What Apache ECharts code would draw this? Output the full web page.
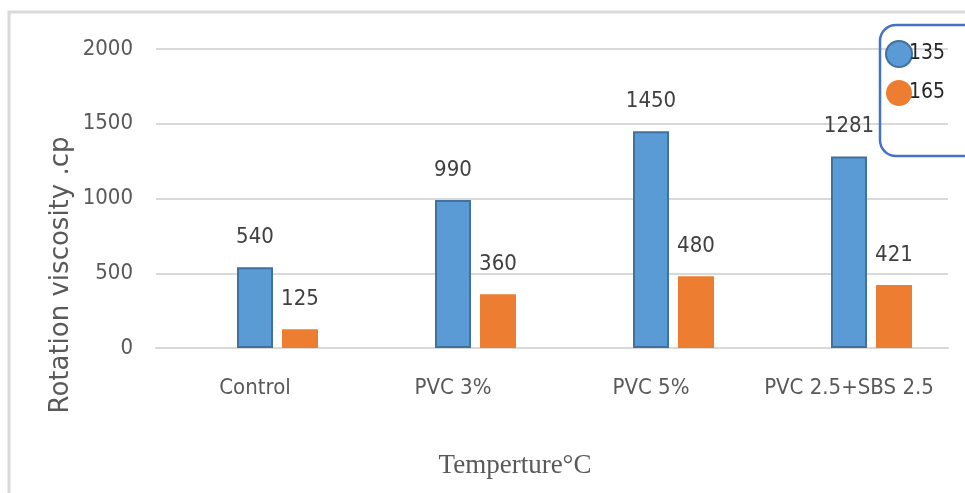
<!DOCTYPE html>
<html>
<head>
<meta charset="utf-8">
<script src="https://cdn.jsdelivr.net/npm/echarts@6/dist/echarts.min.js"></script>
<style>
  html, body { margin: 0; padding: 0; background: #fff; }
  #chart { width: 965px; height: 493px; }
</style>
</head>
<body>
<div id="chart"></div>
<script>
// Rotational viscosity of binders at two test temperatures
const categories = ['Control', 'PVC 3%', 'PVC 5%', 'PVC 2.5+SBS 2.5'];
const seriesNames = ['135', '165'];
const visc135 = [540, 990, 1450, 1281];
const visc165 = [125, 360, 480, 421];
const yTicks = { min: 0, max: 2000, interval: 500 };

const narrow = "'DejaVu Sans Condensed', 'Liberation Sans Narrow', sans-serif";
const labelStyle = {
  show: true,
  position: 'top',
  distance: 19,
  color: '#404040',
  fontFamily: narrow,
  fontSize: 22
};

const chart = echarts.init(document.getElementById('chart'));
chart.setOption({
  animation: false,
  backgroundColor: '#ffffff',
  grid: { left: 156, right: 17, top: 49, bottom: 145, containLabel: false },
  legend: {
    data: seriesNames,
    orient: 'vertical',
    left: 880,
    top: 35,
    icon: 'circle',
    itemWidth: 26,
    itemHeight: 26,
    itemGap: 12,
    textStyle: {
      color: '#262626',
      fontFamily: narrow,
      fontSize: 21,
      padding: [26, 0, 0, -8]
    }
  },
  xAxis: {
    type: 'category',
    data: categories,
    axisTick: { show: false },
    axisLine: { lineStyle: { color: '#D9D9D9', width: 2 } },
    axisLabel: {
      interval: 0,
      color: '#595959',
      fontFamily: narrow,
      fontSize: 22,
      margin: 29
    }
  },
  yAxis: {
    type: 'value',
    min: yTicks.min,
    max: yTicks.max,
    interval: yTicks.interval,
    axisLine: { show: false },
    axisTick: { show: false },
    axisLabel: {
      formatter: (v) => String(v),
      color: '#595959',
      fontFamily: narrow,
      fontSize: 22,
      margin: 23
    },
    splitLine: { lineStyle: { color: '#D9D9D9', width: 2 } }
  },
  graphic: [
    {
      type: 'rect',
      shape: { x: 9, y: 12, width: 1000, height: 600 },
      style: { fill: 'none', stroke: '#D9D9D9', lineWidth: 3 },
      silent: true
    },
    {
      type: 'rect',
      shape: { x: 880, y: 25, width: 140, height: 131, r: 16 },
      style: { fill: 'none', stroke: '#4472C4', lineWidth: 2.5 },
      silent: true,
      z: 10
    },
    {
      type: 'text',
      x: 61,
      y: 275,
      rotation: Math.PI / 2,
      style: {
        text: 'Rotation viscosity .cp',
        fill: '#595959',
        font: "26px 'DejaVu Sans', sans-serif",
        textAlign: 'center',
        textVerticalAlign: 'middle'
      }
    },
    {
      type: 'text',
      x: 515,
      y: 466,
      style: {
        text: 'Temperture°C',
        fill: '#595959',
        font: "27px 'Liberation Serif', serif",
        textAlign: 'center',
        textVerticalAlign: 'middle'
      }
    }
  ],
  series: [
    {
      // empty leading slot of the cluster
      name: '',
      type: 'bar',
      data: categories.map(() => null),
      barWidth: 36,
      barGap: '25%'
    },
    {
      name: seriesNames[0],
      type: 'bar',
      data: visc135,
      barWidth: 36,
      barGap: '25%',
      itemStyle: { color: '#5B9BD5', borderColor: '#41719C', borderWidth: 2 },
      label: labelStyle
    },
    {
      name: seriesNames[1],
      type: 'bar',
      data: visc165,
      barWidth: 36,
      barGap: '25%',
      itemStyle: { color: '#ED7D31' },
      label: labelStyle
    }
  ]
});
</script>
</body>
</html>
